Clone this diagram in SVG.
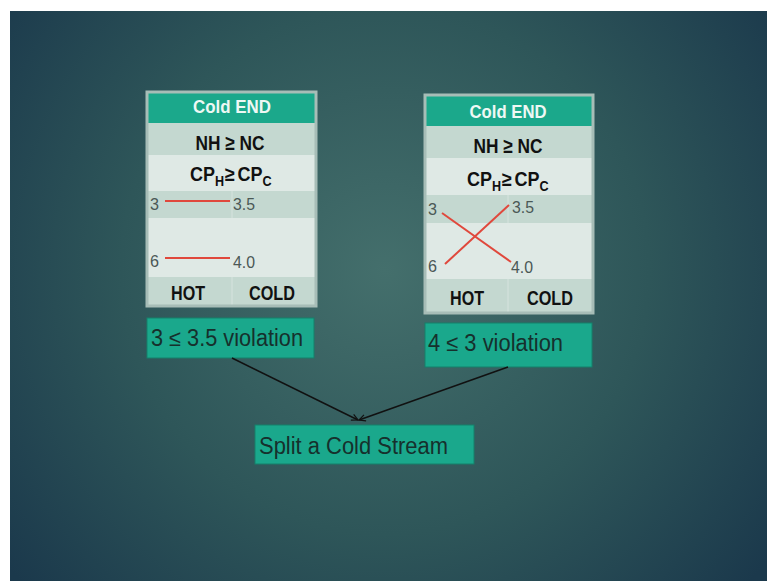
<svg xmlns="http://www.w3.org/2000/svg" width="767" height="581" viewBox="0 0 767 581">
<defs>
<radialGradient id="bg" cx="385" cy="270" r="480" gradientUnits="userSpaceOnUse">
<stop offset="0" stop-color="#446f6c"/>
<stop offset="0.55" stop-color="#2e5659"/>
<stop offset="1" stop-color="#1b394c"/>
</radialGradient>
<marker id="arr" viewBox="0 0 10 10" refX="9" refY="5" markerWidth="8" markerHeight="8" orient="auto" markerUnits="userSpaceOnUse">
<path d="M1,1 L9,5 L1,9" fill="none" stroke="#111" stroke-width="1.5"/>
</marker>
</defs>
<style>
.hdr{fill:#1ba88b}
.dk{fill:#c4d8d0}
.lt{fill:#dfe9e5}
.frame{fill:none;stroke:#a7bdb7;stroke-width:3}
.ht{font-family:"Liberation Sans",Arial,sans-serif;font-weight:bold;font-size:18px;fill:#eef8f4;text-anchor:middle}
.bt{font-family:"Liberation Sans",Arial,sans-serif;font-weight:bold;font-size:21px;fill:#111;text-anchor:middle}
.cp{font-family:"Liberation Sans",Arial,sans-serif;font-weight:bold;font-size:20px;fill:#111}
.sub{font-size:14px}
.num{font-family:"Liberation Sans",Arial,sans-serif;font-size:17px;fill:#4b5856}
.red{stroke:#e0483c;stroke-width:2}
.box{fill:#1aa88c;stroke:#14806a;stroke-width:1}
.bx{font-family:"Liberation Sans",Arial,sans-serif;font-size:23px;fill:#16302c}
.div{stroke:#d6e3de;stroke-width:1}
.con{stroke:#111;stroke-width:1.5;fill:none}
</style>
<rect width="767" height="581" fill="#ffffff"/>
<rect x="10" y="11" width="757" height="570" fill="url(#bg)"/>

<g id="table-left">
<rect x="147" y="92" width="169" height="214" fill="#33595b"/>
<rect class="hdr" x="147" y="92" width="169" height="31"/>
<rect class="dk" x="147" y="123" width="169" height="32"/>
<rect class="lt" x="147" y="155" width="169" height="36"/>
<rect class="dk" x="147" y="191" width="169" height="27"/>
<rect class="lt" x="147" y="218" width="169" height="59"/>
<rect class="dk" x="147" y="277" width="169" height="29"/>
<line class="div" x1="232" y1="191" x2="232" y2="218"/>
<line class="div" x1="232" y1="277" x2="232" y2="306"/>
<rect class="frame" x="147" y="92" width="169" height="214"/>
<text class="ht" x="232" y="113" textLength="78" lengthAdjust="spacingAndGlyphs">Cold END</text>
<text class="bt" x="230" y="150" textLength="69" lengthAdjust="spacingAndGlyphs">NH ≥ NC</text>
<text class="cp" transform="translate(190 181) scale(0.9 1)">CP<tspan class="sub" dy="5">H</tspan><tspan dy="-5" dx="1">≥</tspan><tspan dx="3">CP</tspan><tspan class="sub" dy="5">C</tspan></text>
<text class="num" x="150" y="210" textLength="9" lengthAdjust="spacingAndGlyphs">3</text>
<text class="num" x="233" y="210" textLength="22" lengthAdjust="spacingAndGlyphs">3.5</text>
<text class="num" x="150" y="267" textLength="9" lengthAdjust="spacingAndGlyphs">6</text>
<text class="num" x="233" y="268" textLength="22" lengthAdjust="spacingAndGlyphs">4.0</text>
<line class="red" x1="165" y1="201" x2="230" y2="201"/>
<line class="red" x1="165" y1="258" x2="230" y2="258"/>
<text class="bt" x="188" y="300" textLength="34" lengthAdjust="spacingAndGlyphs">HOT</text>
<text class="bt" x="272" y="300" textLength="46" lengthAdjust="spacingAndGlyphs">COLD</text>
</g>

<g id="table-right">
<rect x="425" y="95" width="168" height="218" fill="#33595b"/>
<rect class="hdr" x="425" y="95" width="168" height="31"/>
<rect class="dk" x="425" y="126" width="168" height="32"/>
<rect class="lt" x="425" y="158" width="168" height="37"/>
<rect class="dk" x="425" y="195" width="168" height="28"/>
<rect class="lt" x="425" y="223" width="168" height="56"/>
<rect class="dk" x="425" y="279" width="168" height="34"/>
<line class="div" x1="508" y1="195" x2="508" y2="223"/>
<line class="div" x1="508" y1="279" x2="508" y2="313"/>
<rect class="frame" x="425" y="95" width="168" height="218"/>
<text class="ht" x="508" y="118" textLength="77" lengthAdjust="spacingAndGlyphs">Cold END</text>
<text class="bt" x="508" y="153" textLength="69" lengthAdjust="spacingAndGlyphs">NH ≥ NC</text>
<text class="cp" transform="translate(467 186) scale(0.9 1)">CP<tspan class="sub" dy="5">H</tspan><tspan dy="-5" dx="1">≥</tspan><tspan dx="3">CP</tspan><tspan class="sub" dy="5">C</tspan></text>
<text class="num" x="428" y="215" textLength="9" lengthAdjust="spacingAndGlyphs">3</text>
<text class="num" x="512" y="213" textLength="22" lengthAdjust="spacingAndGlyphs">3.5</text>
<text class="num" x="428" y="272" textLength="9" lengthAdjust="spacingAndGlyphs">6</text>
<text class="num" x="511" y="273" textLength="22" lengthAdjust="spacingAndGlyphs">4.0</text>
<line class="red" x1="442" y1="213" x2="511" y2="262"/>
<line class="red" x1="445" y1="264" x2="509" y2="205"/>
<text class="bt" x="467" y="305" textLength="34" lengthAdjust="spacingAndGlyphs">HOT</text>
<text class="bt" x="550" y="305" textLength="46" lengthAdjust="spacingAndGlyphs">COLD</text>
</g>

<g id="violation-left">
<rect class="box" x="147" y="318" width="167" height="40"/>
<text class="bx" x="151" y="346" textLength="152" lengthAdjust="spacingAndGlyphs">3 ≤  3.5  violation</text>
</g>

<g id="violation-right">
<rect class="box" x="425" y="323" width="167" height="44"/>
<text class="bx" x="428" y="351" textLength="135" lengthAdjust="spacingAndGlyphs">4 ≤  3  violation</text>
</g>

<g id="split">
<rect class="box" x="255" y="425" width="219" height="39"/>
<text class="bx" x="259" y="454" font-size="24" textLength="189" lengthAdjust="spacingAndGlyphs">Split a Cold Stream</text>
</g>

<g id="connectors">
<line class="con" x1="232" y1="358" x2="358" y2="420" marker-end="url(#arr)"/>
<line class="con" x1="508" y1="367" x2="359" y2="420" marker-end="url(#arr)"/>
</g>
</svg>
